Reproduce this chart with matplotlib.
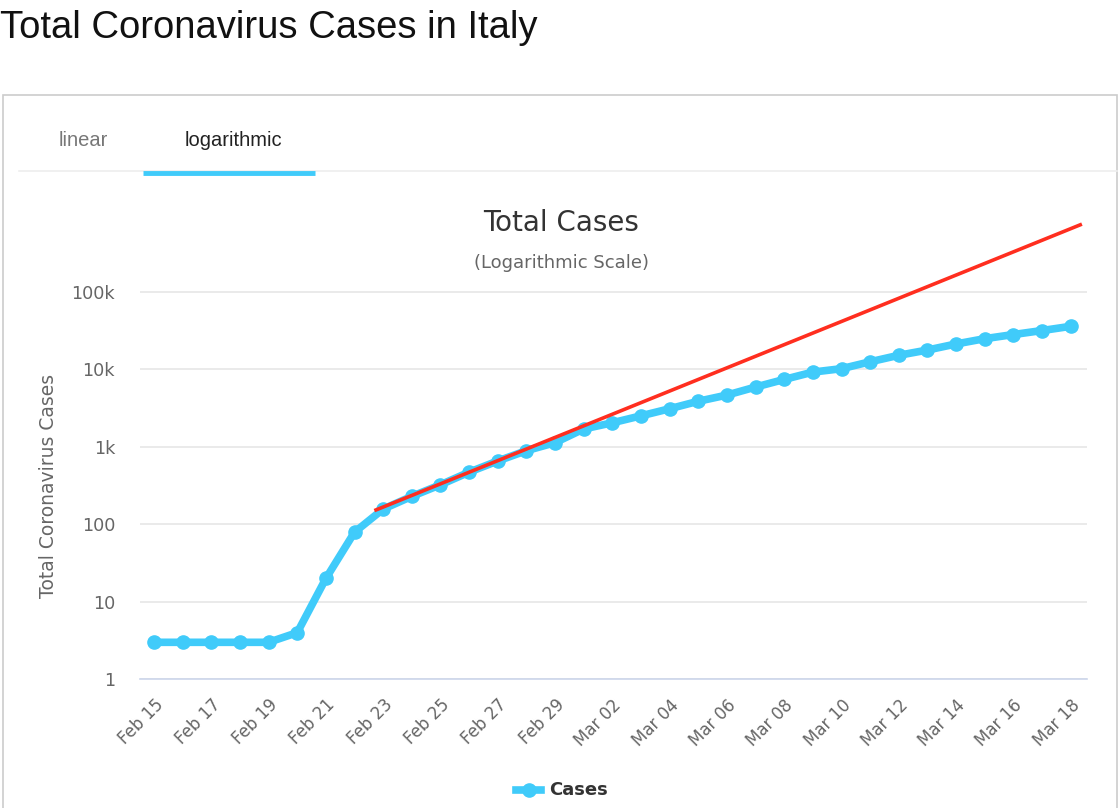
import matplotlib
matplotlib.use("Agg")
import matplotlib.pyplot as plt
import matplotlib.dates as mdates
from matplotlib.lines import Line2D
from matplotlib.patches import Rectangle
from matplotlib.ticker import FixedLocator, NullLocator
import pandas as pd

# total cases per day, Feb 15 .. Mar 18
dates = pd.date_range("2020-02-15", "2020-03-18", freq="D")
cases = [3, 3, 3, 3, 3, 4, 20, 79, 157, 229, 323, 470, 655, 889, 1128,
         1694, 2036, 2502, 3089, 3858, 4636, 5883, 7375, 9172, 10149,
         12462, 15113, 17660, 21157, 24747, 27980, 31506, 35713]

# red exponential trend line (two end points)
trend_dates = pd.to_datetime(["2020-02-22 18:00", "2020-03-18 08:00"])
trend_values = [153, 728000]

y_ticks = [1, 10, 100, 1000, 10000, 100000]
y_tick_labels = ["1", "10", "100", "1k", "10k", "100k"]

blue = "#40cbfa"
red = "#ff2e1f"
grey_text = "#666666"

fig = plt.figure(figsize=(11.2, 8.08), dpi=100)
W, H = 1120, 808

def fx(px):
    return px / W

def fy(py):
    return 1 - py / H

# page title
fig.text(fx(0), fy(28), "Total Coronavirus Cases in Italy", fontsize=27.5,
         family="Liberation Sans", color="#111111", va="center", ha="left")

# chart box
fig.patches.append(Rectangle((fx(3), fy(830)), fx(1114), (830 - 95) / H,
                             transform=fig.transFigure, fill=False,
                             edgecolor="#cccccc", linewidth=1.2))

# tabs
fig.text(fx(83), fy(141), "linear", fontsize=14.5, family="Liberation Sans",
         color="#777777", ha="center", va="center")
fig.text(fx(233), fy(141), "logarithmic", fontsize=14.5, family="Liberation Sans",
         color="#222222", ha="center", va="center")
fig.lines.append(Line2D([fx(19), fx(1117)], [fy(171), fy(171)],
                        transform=fig.transFigure, color="#eeeeee", linewidth=1.2))
fig.lines.append(Line2D([fx(143), fx(315)], [fy(173), fy(173)],
                        transform=fig.transFigure, color=blue, linewidth=3.5,
                        solid_capstyle="butt"))

# chart titles
fig.text(fx(561), fy(223), "Total Cases", fontsize=20, color="#333333",
         ha="center", va="center")
fig.text(fx(561), fy(263), "(Logarithmic Scale)", fontsize=13, color=grey_text,
         ha="center", va="center")

ax = fig.add_axes([fx(140), fy(679.3), fx(1087) - fx(140), (679.3 - 218) / H])
ax.plot(dates, cases, color=blue, linewidth=5.5, marker="o", markersize=9.5,
        zorder=3, solid_joinstyle="round")
ax.plot(trend_dates, trend_values, color=red, linewidth=2.6, zorder=4)

ax.set_yscale("log")
ax.set_ylim(1, 10 ** 5.95)
ax.set_xlim(pd.Timestamp("2020-02-14 12:15"), pd.Timestamp("2020-03-18 13:40"))
ax.yaxis.set_major_locator(FixedLocator(y_ticks))
ax.yaxis.set_minor_locator(NullLocator())
ax.set_yticklabels(y_tick_labels)
ax.grid(axis="y", color="#e6e6e6", linewidth=1.2)
ax.set_axisbelow(True)

ax.xaxis.set_major_locator(mdates.DayLocator(interval=2))
ax.xaxis.set_major_formatter(mdates.DateFormatter("%b %d"))
plt.setp(ax.get_xticklabels(), rotation=45, ha="right", rotation_mode="anchor")

for side in ["top", "right", "left"]:
    ax.spines[side].set_visible(False)
ax.spines["bottom"].set_color("#ccd6eb")
ax.spines["bottom"].set_linewidth(1.2)
ax.tick_params(axis="both", length=0, labelsize=12, labelcolor=grey_text)
ax.tick_params(axis="y", labelsize=12.7, pad=18)
ax.tick_params(axis="x", pad=12)

fig.text(fx(49), fy(486), "Total Coronavirus Cases", fontsize=13.5, color=grey_text,
         rotation=90, ha="center", va="center")

# legend
fig.lines.append(Line2D([fx(516), fx(541)], [fy(790), fy(790)],
                        transform=fig.transFigure, color=blue, linewidth=5.5))
fig.lines.append(Line2D([fx(528.5)], [fy(790)], transform=fig.transFigure,
                        color=blue, marker="o", markersize=9.5))
fig.text(fx(549), fy(790), "Cases", fontsize=13, fontweight="bold",
         color="#333333", ha="left", va="center")

fig.savefig("out.png", dpi=100)
